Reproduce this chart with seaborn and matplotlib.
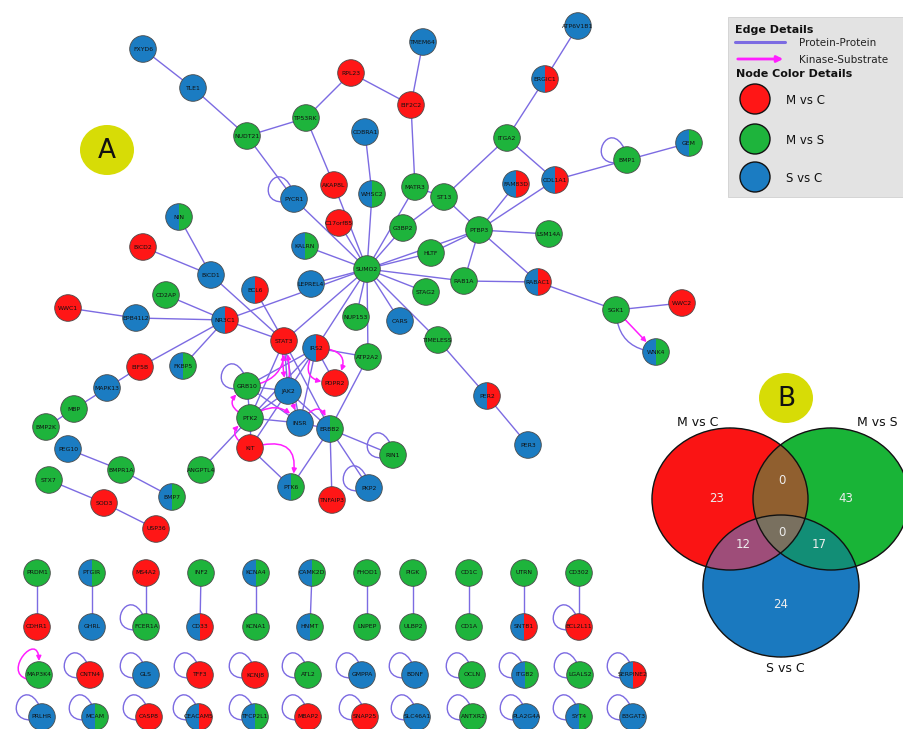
import numpy as np
import pandas as pd
import matplotlib
matplotlib.use("Agg")
import matplotlib.pyplot as plt
from matplotlib.patches import Wedge, Circle, Ellipse, FancyArrowPatch, Rectangle, PathPatch
from matplotlib.path import Path
import seaborn as sns

sns.set_theme(style="white")
plt.rcParams["font.family"] = ["DejaVu Sans"]

# colour keys: R = M vs C, G = M vs S, B = S vs C
PALETTE = {"R": "#FF1616", "G": "#1EB43C", "B": "#1B7CC2"}
EDGE_PP = "#7C6BE2"
EDGE_KS = "#FF1EFF"

# ---- connected network: node names, layout positions and colour keys ----
net_names = ["FXYD6", "TLE1", "NUDT21", "TP53RK", "RPL23", "TMEM64", "EIF2C2", "ATP6V1B1",
             "ERGIC1", "COBRA1", "ITGA2", "BMP1", "GEM", "PYCR1", "AKAP8L", "WHSC2",
             "MATR3", "ST13", "FAM83D", "COL1A1", "NIN", "C17orf85", "G3BP2", "PTBP3",
             "LSM14A", "KALRN", "BICD2", "HLTF", "SUMO2", "BICD1", "LEPREL4", "BCL6",
             "RAB1A", "RABAC1", "STAG2", "CD2AP", "WWC1", "WWC2", "SGK1", "EPB41L2",
             "NR3C1", "NUP153", "CARS", "TIMELESS", "STAT3", "IRS2", "WNK4", "ATP2A2",
             "EIF5B", "FKBP5", "PDPR2", "GRB10", "JAK2", "MAPK13", "PER2", "MBP",
             "PTK2", "INSR", "ERBB2", "BMP2K", "KIT", "PER3", "PEG10", "RIN1",
             "BMPR1A", "ANGPTL4", "STX7", "PTK6", "PKP2", "BMP7", "TNFAIP3", "SOD3",
             "USP36"]
net_x = [143, 193, 247, 306, 351, 423, 411, 578,
         545, 365, 507, 627, 689, 294, 334, 372,
         415, 444, 516, 555, 179, 339, 403, 479,
         549, 305, 143, 431, 367, 211, 311, 255,
         464, 538, 426, 166, 68, 682, 616, 136,
         225, 356, 400, 438, 284, 316, 656, 368,
         140, 183, 335, 247, 288, 107, 487, 74,
         250, 300, 330, 46, 250, 528, 68, 393,
         121, 201, 49, 291, 369, 172, 332, 104,
         156]
net_y = [49, 88, 136, 118, 73, 42, 105, 26,
         79, 132, 138, 160, 143, 199, 185, 194,
         187, 197, 184, 180, 217, 223, 228, 230,
         234, 246, 247, 253, 269, 275, 284, 290,
         281, 282, 292, 295, 308, 303, 310, 318,
         320, 317, 321, 340, 341, 348, 352, 357,
         367, 366, 383, 386, 391, 388, 396, 409,
         418, 423, 429, 427, 448, 445, 449, 455,
         470, 470, 480, 487, 488, 497, 500, 503,
         529]
net_col = ["B", "B", "G", "G", "R", "B", "R", "B",
           "BR", "B", "G", "G", "BG", "B", "R", "BG",
           "G", "G", "BR", "BR", "BG", "R", "G", "G",
           "G", "BG", "R", "G", "G", "B", "B", "BR",
           "G", "BR", "G", "G", "R", "R", "G", "B",
           "BR", "G", "B", "G", "R", "BR", "BG", "G",
           "R", "BG", "R", "G", "B", "B", "BR", "G",
           "G", "B", "BG", "G", "R", "B", "B", "G",
           "G", "G", "G", "BG", "B", "BG", "R", "R",
           "R"]

ppi_edges = [
    ("FXYD6", "TLE1"), ("TLE1", "NUDT21"), ("NUDT21", "TP53RK"), ("NUDT21", "PYCR1"),
    ("TP53RK", "RPL23"), ("RPL23", "EIF2C2"), ("TMEM64", "EIF2C2"), ("EIF2C2", "MATR3"),
    ("TP53RK", "AKAP8L"), ("AKAP8L", "SUMO2"), ("C17orf85", "SUMO2"), ("COBRA1", "WHSC2"),
    ("WHSC2", "SUMO2"), ("MATR3", "SUMO2"), ("MATR3", "ST13"), ("G3BP2", "SUMO2"),
    ("G3BP2", "ST13"), ("ST13", "ITGA2"), ("ST13", "PTBP3"), ("ITGA2", "ERGIC1"),
    ("ERGIC1", "ATP6V1B1"), ("ITGA2", "COL1A1"), ("COL1A1", "BMP1"), ("BMP1", "GEM"),
    ("COL1A1", "PTBP3"), ("FAM83D", "PTBP3"), ("PTBP3", "LSM14A"), ("PTBP3", "SUMO2"),
    ("PTBP3", "HLTF"), ("HLTF", "SUMO2"), ("PTBP3", "RAB1A"), ("PTBP3", "RABAC1"),
    ("RAB1A", "RABAC1"), ("RAB1A", "SUMO2"), ("RABAC1", "SGK1"), ("SGK1", "WWC2"),
    ("PYCR1", "SUMO2"), ("KALRN", "SUMO2"), ("LEPREL4", "SUMO2"), ("NR3C1", "SUMO2"),
    ("STAT3", "SUMO2"), ("IRS2", "SUMO2"), ("NUP153", "SUMO2"), ("CARS", "SUMO2"),
    ("ATP2A2", "SUMO2"), ("STAG2", "SUMO2"), ("TIMELESS", "SUMO2"), ("TIMELESS", "PER2"),
    ("PER2", "PER3"), ("NIN", "BICD1"), ("BICD2", "BICD1"), ("BICD1", "STAT3"),
    ("BCL6", "STAT3"), ("NR3C1", "STAT3"), ("NR3C1", "CD2AP"), ("NR3C1", "EPB41L2"),
    ("EPB41L2", "WWC1"), ("NR3C1", "FKBP5"), ("NR3C1", "EIF5B"), ("EIF5B", "MAPK13"),
    ("MAPK13", "MBP"), ("MBP", "BMP2K"), ("PEG10", "BMPR1A"), ("BMPR1A", "BMP7"),
    ("STX7", "SOD3"), ("SOD3", "USP36"), ("ANGPTL4", "PTK2"), ("STAT3", "JAK2"),
    ("STAT3", "PTK2"), ("STAT3", "INSR"), ("STAT3", "ERBB2"), ("IRS2", "JAK2"),
    ("IRS2", "INSR"), ("IRS2", "PTK2"), ("IRS2", "GRB10"), ("IRS2", "ATP2A2"),
    ("IRS2", "PDPR2"), ("GRB10", "JAK2"), ("GRB10", "PTK2"), ("GRB10", "INSR"),
    ("JAK2", "PTK2"), ("JAK2", "INSR"), ("JAK2", "KIT"), ("JAK2", "ERBB2"),
    ("PTK2", "INSR"), ("PTK2", "KIT"), ("INSR", "ERBB2"), ("ERBB2", "ATP2A2"),
    ("ERBB2", "RIN1"), ("ERBB2", "TNFAIP3"), ("ERBB2", "PKP2"), ("ERBB2", "PTK6"),
    ("KIT", "PTK6"),
]
# curved protein-protein edge (source, target, curvature)
ppi_curved = [("SGK1", "WNK4", 0.45)]

# kinase -> substrate edges (source, target, curvature)
ks_edges = [
    ("SGK1", "WNK4", 0.0), ("STAT3", "JAK2", 0.12), ("JAK2", "STAT3", 0.12),
    ("IRS2", "PDPR2", 0.9), ("IRS2", "PDPR2", -0.9), ("GRB10", "STAT3", 0.5),
    ("PTK2", "GRB10", -1.0), ("KIT", "PTK2", -1.0), ("JAK2", "INSR", 0.0),
    ("INSR", "ERBB2", -1.1), ("KIT", "PTK6", -0.9), ("PTK2", "INSR", -0.5),
]

# ---- isolated pairs and self-interacting proteins ----
top_names = ["PRDM1", "PTGIR", "MS4A2", "INF2", "KCNA4", "CAMK2D", "FHOD1", "PIGK",
             "CD1C", "UTRN", "CD302"]
top_col = ["G", "BG", "R", "G", "BG", "BG", "G", "G", "G", "G", "G"]
top_x = [37, 92, 146, 201, 256, 312, 367, 413, 469, 524, 579]
mid_names = ["CDHR1", "GHRL", "FCER1A", "CD33", "KCNA1", "HNMT", "LNPEP", "ULBP2",
             "CD1A", "SNTB1", "BCL2L11"]
mid_col = ["R", "B", "G", "BR", "G", "BG", "G", "G", "G", "BR", "R"]
mid_x = [37, 92, 146, 200, 256, 310, 367, 413, 469, 524, 579]
row3_names = ["MAP3K4", "CNTN4", "GLS", "TFF3", "KCNJ8", "ATL2", "GMPPA", "BDNF",
              "OCLN", "ITGB2", "LGALS2", "SERPINE2"]
row3_col = ["G", "R", "B", "R", "R", "G", "B", "B", "G", "BG", "G", "BR"]
row3_x = [39, 90, 146, 200, 255, 308, 362, 415, 472, 525, 580, 633]
row4_names = ["PRLHR", "MCAM", "CASP8", "CEACAM5", "TFCP2L1", "MBAP2", "SNAP25",
              "SLC46A1", "ANTXR2", "PLA2G4A", "SYT4", "B3GAT3"]
row4_col = ["B", "BG", "R", "BR", "BG", "R", "R", "B", "G", "B", "BG", "B"]
row4_x = [42, 95, 149, 199, 255, 308, 365, 417, 473, 526, 579, 633]
row_y = [573, 627, 675, 717]

self_loops = ["PYCR1", "BMP1", "GRB10", "RIN1", "PKP2", "FCER1A", "BCL2L11"] + \
    row3_names[1:] + row4_names
self_ks = ["MAP3K4"]

# ---- Venn diagram counts ----
venn_sets = ["M vs C", "M vs S", "S vs C"]
venn_regions = ["100", "010", "001", "110", "101", "011", "111"]
venn_counts = [23, 43, 24, 0, 12, 17, 0]

# ---------------------------------------------------------------------------
W, H = 904, 729
fig = plt.figure(figsize=(W / 100, H / 100), dpi=100)
ax = fig.add_axes([0, 0, 1, 1])
ax.set_xlim(0, W)
ax.set_ylim(H, 0)
ax.axis("off")

R_NODE = 13.3
S_NODE = (2 * R_NODE * 72 / 100) ** 2
OUTLINE = "#4a4a4a"

pos, colour = {}, {}
for n, x, y, c in zip(net_names, net_x, net_y, net_col):
    pos[n], colour[n] = (x, y), c
for names, cols, xs, y in [(top_names, top_col, top_x, row_y[0]),
                           (mid_names, mid_col, mid_x, row_y[1]),
                           (row3_names, row3_col, row3_x, row_y[2]),
                           (row4_names, row4_col, row4_x, row_y[3])]:
    for n, c, x in zip(names, cols, xs):
        pos[n], colour[n] = (x, y), c

# protein-protein edges
for a, b in ppi_edges + list(zip(top_names, mid_names)):
    (x1, y1), (x2, y2) = pos[a], pos[b]
    ax.plot([x1, x2], [y1, y2], color=EDGE_PP, lw=1.0, zorder=1, solid_capstyle="round")
for a, b, rad in ppi_curved:
    ax.add_patch(FancyArrowPatch(pos[a], pos[b], arrowstyle="-", color=EDGE_PP, lw=1.0,
                                 connectionstyle=f"arc3,rad={rad}", zorder=1,
                                 shrinkA=8, shrinkB=8))

# self interactions drawn as teardrop loops on the upper left of the node
for n in self_loops:
    x, y = pos[n]
    loop = Path([(x - 10, y + 3), (x - 42, y + 4), (x - 18, y - 44), (x - 2, y - 10)],
                [Path.MOVETO, Path.CURVE4, Path.CURVE4, Path.CURVE4])
    ax.add_patch(PathPatch(loop, fill=False, ec=EDGE_PP, lw=1.0, zorder=1))

# kinase-substrate arrows
for a, b, rad in ks_edges:
    ax.add_patch(FancyArrowPatch(pos[a], pos[b], arrowstyle="-|>", mutation_scale=7,
                                 color=EDGE_KS, lw=1.1, shrinkA=9.5, shrinkB=9.8,
                                 connectionstyle=f"arc3,rad={rad}", zorder=2))
for n in self_ks:
    x, y = pos[n]
    loop = Path([(x - 12, y + 4), (x - 37, y - 3), (x - 1, y - 45), (x, y - 14)],
                [Path.MOVETO, Path.CURVE4, Path.CURVE4, Path.CURVE4])
    ax.add_patch(FancyArrowPatch(path=loop, arrowstyle="-|>", mutation_scale=7,
                                 color=EDGE_KS, lw=1.1, zorder=2))

# single-colour nodes through seaborn
solid = pd.DataFrame([(n, pos[n][0], pos[n][1], colour[n]) for n in pos if len(colour[n]) == 1],
                     columns=["gene", "x", "y", "group"])
sns.scatterplot(data=solid, x="x", y="y", hue="group", palette=PALETTE, s=S_NODE,
                edgecolor=OUTLINE, linewidth=0.6, legend=False, ax=ax, zorder=3)
ax.set_xlim(0, W)
ax.set_ylim(H, 0)
ax.set_xlabel("")
ax.set_ylabel("")

# two-colour nodes: split vertically
for n in pos:
    c = colour[n]
    if len(c) == 2:
        x, y = pos[n]
        ax.add_patch(Wedge((x, y), R_NODE, 90, 270, fc=PALETTE[c[0]], ec="none", zorder=3))
        ax.add_patch(Wedge((x, y), R_NODE, -90, 90, fc=PALETTE[c[1]], ec="none", zorder=3))
        ax.add_patch(Circle((x, y), R_NODE, fill=False, ec=OUTLINE, lw=0.6, zorder=3.5))

for n, (x, y) in pos.items():
    ax.text(x, y, n, fontsize=4.4, ha="center", va="center", color="#111111", zorder=4)

# panel tags
for tag, (x, y) in [("A", (107, 150)), ("B", (786, 398))]:
    ax.add_patch(Ellipse((x, y), 54, 50, fc="#D7DC06", ec="none", zorder=3))
    ax.text(x, y + 1, tag, fontsize=19, ha="center", va="center", color="#111111", zorder=4)

# ---- legend box ----
ax.add_patch(Rectangle((728, 17), 180, 180, fc="#E3E3E3", ec="#D0D0D0", lw=0.6, zorder=2))
ax.text(735, 30, "Edge Details", fontsize=8, fontweight="bold", va="center", color="#111111", zorder=4)
ax.plot([735, 785], [42, 42], color=EDGE_PP, lw=2.2, zorder=3)
ax.text(799, 43, "Protein-Protein", fontsize=7.5, va="center", color="#222222", zorder=4)
ax.add_patch(FancyArrowPatch((735, 59), (786, 59), arrowstyle="-|>", mutation_scale=9,
                             color=EDGE_KS, lw=2.0, zorder=3))
ax.text(799, 60, "Kinase-Substrate", fontsize=7.5, va="center", color="#222222", zorder=4)
ax.text(736, 74, "Node Color Details", fontsize=8, fontweight="bold", va="center",
        color="#111111", zorder=4)
for key, label, y in [("R", "M vs C", 99), ("G", "M vs S", 139), ("B", "S vs C", 177)]:
    ax.add_patch(Circle((755, y), 15, fc=PALETTE[key], ec="#111111", lw=1.0, zorder=3))
    ax.text(786, y + 1, label, fontsize=8.5, va="center", color="#111111", zorder=4)

# ---- Venn diagram ----
centres = {"M vs C": (730, 499), "M vs S": (831, 499), "S vs C": (781, 586)}
ea, eb = 78, 71
region_rgb = {"100": (250, 20, 20), "010": (25, 180, 55), "001": (27, 122, 192),
              "110": (145, 96, 48), "101": (158, 78, 122), "011": (18, 142, 118),
              "111": (122, 112, 96)}
x0, x1, y0, y1 = 640, 904, 420, 665
gx, gy = np.meshgrid(np.linspace(x0, x1, 4 * (x1 - x0)), np.linspace(y0, y1, 4 * (y1 - y0)))
inside = [(((gx - cx) / ea) ** 2 + ((gy - cy) / eb) ** 2) <= 1 for cx, cy in centres.values()]
rgba = np.zeros(gx.shape + (4,))
for code, rgb in region_rgb.items():
    m = np.ones(gx.shape, bool)
    for bit, ins in zip(code, inside):
        m &= ins if bit == "1" else ~ins
    rgba[m, :3] = np.array(rgb) / 255
    rgba[m, 3] = 1
ax.imshow(rgba, extent=[x0, x1, y1, y0], origin="upper", interpolation="bilinear", zorder=2)
ax.set_xlim(0, W)
ax.set_ylim(H, 0)
for cx, cy in centres.values():
    ax.add_patch(Ellipse((cx, cy), 2 * ea, 2 * eb, fill=False, ec="#111111", lw=1.0, zorder=3))

region_xy = {"100": (717, 498), "010": (846, 498), "001": (781, 605), "110": (782, 480),
             "101": (743, 544), "011": (819, 544), "111": (782, 532)}
for code, cnt in zip(venn_regions, venn_counts):
    x, y = region_xy[code]
    ax.text(x, y, str(cnt), fontsize=8.5, ha="center", va="center", color="#EDEDED", zorder=4)
for name, (x, y) in zip(venn_sets, [(698, 422), (877, 422), (785, 668)]):
    ax.text(x, y, name, fontsize=9, ha="center", va="center", color="#111111", zorder=4)

fig.savefig("out.png", dpi=100, facecolor="white")
